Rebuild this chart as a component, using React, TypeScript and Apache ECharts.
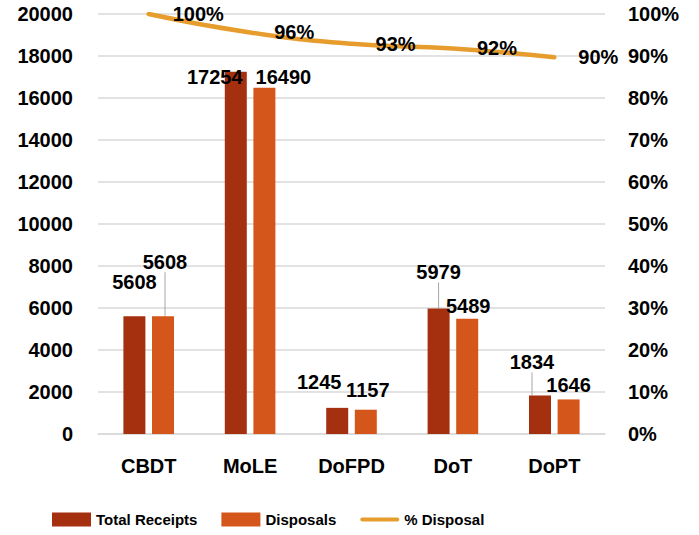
import React, { useEffect, useRef } from "react";
import * as echarts from "echarts";

const categories = ["CBDT", "MoLE", "DoFPD", "DoT", "DoPT"];
const totalReceipts = [5608, 17254, 1245, 5979, 1834];
const disposals = [5608, 16490, 1157, 5489, 1646];
const pctDisposal = [100, 95.6, 92.9, 91.8, 89.7];
const leftTicks = { min: 0, max: 20000, interval: 2000 };
const rightTicks = { min: 0, max: 100, interval: 10 };

// label nudges [dx, dy] per series/category (layout only)
const receiptLabelShift = [[0, -19], [-21, 20], [-18, -11], [0, -21], [-8, -18]];
const disposalLabelShift = [[2, -39], [19, 4], [2, -5], [1, 2], [0, 1]];
const receiptLeader = [false, false, false, true, true];
const disposalLeader = [true, false, false, false, false];

const FONT = '"Liberation Sans", Arial, sans-serif';
const C_REC = "#A5300F";
const C_DIS = "#D5561A";
const C_LINE = "#E69D2E";

export default function App() {
  const ref = useRef<HTMLDivElement>(null);
  useEffect(() => {
    if (!ref.current) return;
    const chart = echarts.init(ref.current, undefined, { renderer: "svg" });
    const labelStyle = {
      show: true,
      position: "top",
      distance: 5,
      fontFamily: FONT,
      fontWeight: "bold",
      fontSize: 20,
      color: "#000",
    };
    const leaderLine = { show: true, lineStyle: { color: "#a6a6a6", width: 1 } };
    chart.setOption({
      animation: false,
      backgroundColor: "#fff",
      grid: { left: 98, right: 94, top: 14, bottom: 101, containLabel: false },
      legend: {
        left: 47,
        top: 507,
        itemWidth: 39,
        itemHeight: 14,
        itemGap: 24,
        textStyle: { fontFamily: FONT, fontWeight: "bold", fontSize: 15, color: "#000" },
        data: [
          { name: "Total Receipts", icon: "rect" },
          { name: "Disposals", icon: "rect" },
          {
            name: "% Disposal",
            icon: "path://M2,0 L38,0 A2,2 0 0 1 38,4 L2,4 A2,2 0 0 1 2,0 Z",
          },
        ],
      },
      xAxis: {
        type: "category",
        data: categories,
        axisTick: { show: false },
        axisLine: { lineStyle: { color: "#d9d9d9", width: 1.5 } },
        axisLabel: { fontFamily: FONT, fontWeight: "bold", fontSize: 20, color: "#000", margin: 22 },
      },
      yAxis: [
        {
          type: "value",
          ...leftTicks,
          axisLine: { show: false },
          axisTick: { show: false },
          splitLine: { lineStyle: { color: "#d9d9d9", width: 1.5 } },
          axisLabel: {
            fontFamily: FONT,
            fontWeight: "bold",
            fontSize: 20,
            color: "#000",
            margin: 25,
            formatter: (v: number) => String(v),
          },
        },
        {
          type: "value",
          ...rightTicks,
          position: "right",
          axisLine: { show: false },
          axisTick: { show: false },
          splitLine: { show: false },
          axisLabel: {
            fontFamily: FONT,
            fontWeight: "bold",
            fontSize: 20,
            color: "#000",
            margin: 23,
            formatter: "{value}%",
          },
        },
      ],
      series: [
        {
          name: "Total Receipts",
          type: "bar",
          barWidth: 22,
          barGap: "30%",
          itemStyle: { color: C_REC },
          data: totalReceipts.map((v, i) =>
            receiptLeader[i] ? { value: v, labelLine: leaderLine } : v
          ),
          label: labelStyle,
          labelLine: { show: false },
          labelLayout: (p: any) => ({ dx: receiptLabelShift[p.dataIndex][0], dy: receiptLabelShift[p.dataIndex][1] }),
        },
        {
          name: "Disposals",
          type: "bar",
          barWidth: 22,
          barGap: "30%",
          itemStyle: { color: C_DIS },
          data: disposals.map((v, i) =>
            disposalLeader[i] ? { value: v, labelLine: leaderLine } : v
          ),
          label: labelStyle,
          labelLine: { show: false },
          labelLayout: (p: any) => ({ dx: disposalLabelShift[p.dataIndex][0], dy: disposalLabelShift[p.dataIndex][1] }),
        },
        {
          name: "% Disposal",
          type: "line",
          yAxisIndex: 1,
          smooth: true,
          symbol: "circle",
          symbolSize: 0.1,
          showSymbol: true,
          lineStyle: { color: C_LINE, width: 4.5, cap: "round" },
          itemStyle: { color: C_LINE },
          data: pctDisposal,
          label: {
            show: true,
            position: "right",
            distance: 24,
            fontFamily: FONT,
            fontWeight: "bold",
            fontSize: 20,
            color: "#000",
            formatter: (p: any) => Math.round(p.value) + "%",
          },
        },
      ],
    });
    return () => chart.dispose();
  }, []);
  return (
    <div
      ref={ref}
      style={{ position: "absolute", left: 0, top: 0, width: 699, height: 535 }}
    />
  );
}
